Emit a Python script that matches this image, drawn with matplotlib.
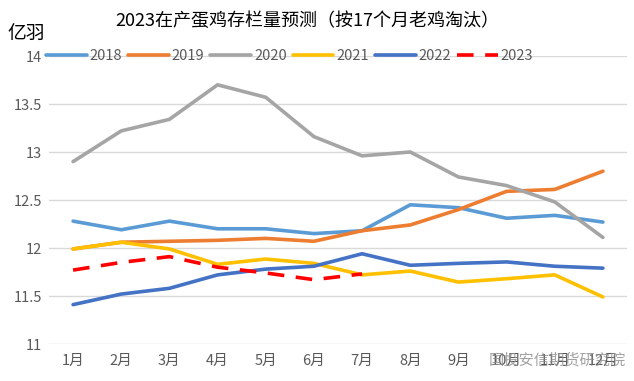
import matplotlib
matplotlib.use("Agg")
import matplotlib.pyplot as plt

plt.rcParams['font.family'] = ['Noto Sans CJK SC', 'DejaVu Sans']

months = ["1月", "2月", "3月", "4月", "5月", "6月", "7月", "8月", "9月", "10月", "11月", "12月"]
s2018 = [12.28, 12.19, 12.28, 12.20, 12.20, 12.15, 12.18, 12.45, 12.42, 12.31, 12.34, 12.27]
s2019 = [11.99, 12.06, 12.07, 12.08, 12.10, 12.07, 12.18, 12.24, 12.40, 12.59, 12.61, 12.80]
s2020 = [12.90, 13.22, 13.34, 13.70, 13.57, 13.16, 12.96, 13.00, 12.74, 12.65, 12.48, 12.11]
s2021 = [11.99, 12.06, 11.99, 11.83, 11.885, 11.84, 11.72, 11.76, 11.645, 11.68, 11.72, 11.49]
s2022 = [11.41, 11.52, 11.58, 11.72, 11.78, 11.81, 11.94, 11.82, 11.84, 11.855, 11.81, 11.79]
s2023 = [11.77, 11.85, 11.91, 11.80, 11.74, 11.67, 11.73]
yticks = [11, 11.5, 12, 12.5, 13, 13.5, 14]
title = "2023在产蛋鸡存栏量预测（按17个月老鸡淘汰）"

fig = plt.figure(figsize=(6.34, 3.81), dpi=100)
ax = fig.add_axes([49/634, 1-344/381, (627-49)/634, (344-56)/381])

x = list(range(len(months)))
lw = 2.6
ax.plot(x, s2018, color="#5B9BD5", lw=lw, label="2018", solid_capstyle="round")
ax.plot(x, s2019, color="#ED7D31", lw=lw, label="2019", solid_capstyle="round")
ax.plot(x, s2020, color="#A5A5A5", lw=lw, label="2020", solid_capstyle="round")
ax.plot(x, s2021, color="#FFC000", lw=lw, label="2021", solid_capstyle="round")
ax.plot(x, s2022, color="#4472C4", lw=lw, label="2022", solid_capstyle="round")
ax.plot(x[:len(s2023)], s2023, color="#FF0000", lw=lw, ls=(0, (4.6, 3.2)), label="2023")

ax.set_xlim(-0.5, 11.5)
ax.set_ylim(11, 14)
ax.set_yticks(yticks)
ax.set_yticklabels([f"{v:g}" for v in yticks])
ax.set_xticks(x)
ax.set_xticklabels(months)
ax.tick_params(axis='both', length=0, labelsize=10.5, labelcolor="#595959")
ax.tick_params(axis='y', pad=5)
ax.tick_params(axis='x', pad=7)
for s in ax.spines.values():
    s.set_visible(False)
ax.grid(axis='y', color="#D9D9D9", lw=1)
ax.set_axisbelow(True)

fig.text(0.485, 1-21/381, title, ha='center', va='center', fontsize=13, color="#000000")
fig.text(7/634, 1-33/381, "亿羽", ha='left', va='center', fontsize=13.5, color="#000000")

leg = fig.legend(loc='center left', bbox_to_anchor=(46/634, 1-56/381), ncol=6, frameon=False,
                 fontsize=10.5, handlelength=2.8, columnspacing=0.4, handletextpad=0.2,
                 borderpad=0, borderaxespad=0)
for t in leg.get_texts():
    t.set_color("#595959")

fig.text(626/634, 1-360/381, "国投安信期货研究院", ha='right', va='center', fontsize=11,
         color="#8C8C8C", alpha=0.8)

fig.savefig("out.png", dpi=100)
